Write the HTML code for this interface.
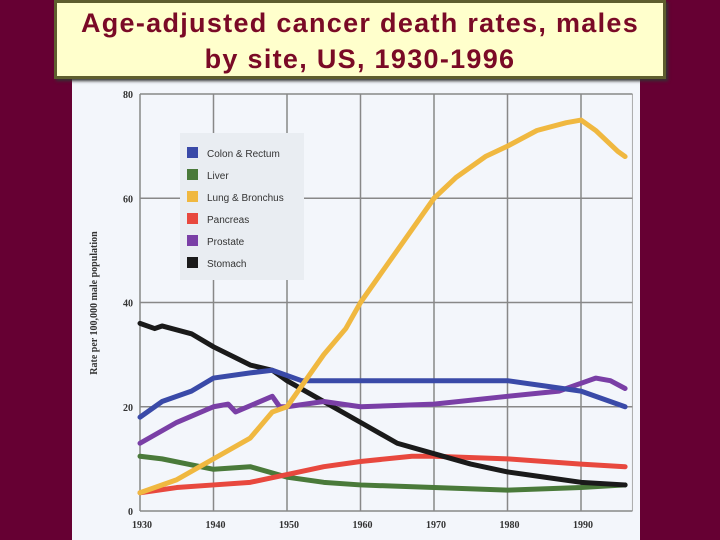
<!DOCTYPE html>
<html><head><meta charset="utf-8"><style>
body{margin:0;width:720px;height:540px;background:#660033;overflow:hidden;position:relative;font-family:"Liberation Sans",sans-serif}
#panel{position:absolute;left:72px;top:70px;width:568px;height:470px;background:#f3f6fb}
#title{position:absolute;left:54px;top:0;width:612px;height:79px;background:#ffffcc;border:3px solid #5e5e2e;box-sizing:border-box;text-align:center;font-size:27px;letter-spacing:1.3px;font-weight:bold;line-height:36px;padding-top:2px;color:#7a0a26;box-shadow:2px 2px 3px #333;white-space:nowrap}
svg{position:absolute;left:0;top:0}
</style></head><body>
<div id="panel"></div>
<svg id="chart" width="720" height="540"></svg>
<div id="title">Age-adjusted cancer death rates, males<br>by site, US, 1930-1996</div>
<script>
const xTicks=[1930,1940,1950,1960,1970,1980,1990];
const yTicks=[0,20,40,60,80];
const seriesNames=["Colon & Rectum","Liver","Lung & Bronchus","Pancreas","Prostate","Stomach"];
const seriesColors=["#3a4aa8","#4a7a3a","#f0b840","#e8483e","#7a3fa6","#1a1a1a"];
const colonYears=[1930,1933,1937,1940,1945,1948,1950,1952,1960,1970,1980,1985,1990,1996];
const colonVals=[18,21,23,25.5,26.5,27,26,25,25,25,25,24,23,20];
const liverYears=[1930,1933,1940,1945,1950,1955,1960,1970,1980,1990,1996];
const liverVals=[10.5,10,8,8.5,6.5,5.5,5,4.5,4,4.5,5];
const lungYears=[1930,1935,1940,1945,1948,1950,1952,1955,1958,1960,1963,1967,1970,1973,1977,1980,1984,1988,1990,1992,1995,1996];
const lungVals=[3.5,6,10,14,19,20,24,30,35,40,46,54,60,64,68,70,73,74.5,75,73,69,68];
const pancYears=[1930,1935,1940,1945,1950,1955,1960,1967,1970,1980,1990,1996];
const pancVals=[3.5,4.5,5,5.5,7,8.5,9.5,10.5,10.5,10,9,8.5];
const prosYears=[1930,1935,1940,1942,1943,1948,1949,1950,1955,1960,1970,1980,1987,1990,1992,1994,1996];
const prosVals=[13,17,20,20.5,19,22,20,20,21,20,20.5,22,23,24.5,25.5,25,23.5];
const stomYears=[1930,1932,1933,1937,1940,1945,1948,1950,1955,1960,1965,1970,1975,1980,1985,1990,1996];
const stomVals=[36,35,35.5,34,31.5,28,27,25,21,17,13,11,9,7.5,6.5,5.5,5];
const svg=document.getElementById('chart');const NS="http://www.w3.org/2000/svg";
const X=y=>140+(y-1930)*(581-140)/60;
const Y=v=>511-v*(511-94)/80;
function mk(t,a,p){const e=document.createElementNS(NS,t);for(const k in a)e.setAttribute(k,a[k]);(p||svg).appendChild(e);return e;}
xTicks.forEach(t=>{const l=mk('line',{x1:X(t),x2:X(t),y1:Y(80),y2:Y(0),stroke:'#888','stroke-width':1.5});


const tx=mk('text',{x:X(t)+2,y:528,'font-size':10,'font-weight':'bold','font-family':'Liberation Serif,serif','text-anchor':'middle',fill:'#333'});tx.textContent=t;

});
mk('line',{x1:X(1997),x2:X(1997),y1:Y(80),y2:Y(0),stroke:'#aaa','stroke-width':1});
yTicks.forEach(t=>{const l=mk('line',{x1:X(1930),x2:X(1997),y1:Y(t),y2:Y(t),stroke:'#888','stroke-width':1.5});


const tx=mk('text',{x:133,y:Y(t)+4,'font-size':10,'font-weight':'bold','font-family':'Liberation Serif,serif','text-anchor':'end',fill:'#333'});tx.textContent=t;

});
const yl=mk('text',{x:0,y:0,transform:'translate(97,303) rotate(-90)','font-size':10,'font-weight':'bold','font-family':'Liberation Serif,serif','text-anchor':'middle',fill:'#333'});yl.textContent='Rate per 100,000 male population';


const lg=mk('rect',{x:180,y:133,width:124,height:147,fill:'#e9edf2'});


seriesNames.forEach((n,i)=>{const y=153+i*22;
const s=mk('rect',{x:187,y:y-6,width:11,height:11,fill:seriesColors[i]});


const t=mk('text',{x:207,y:y+4,'font-size':10,fill:'#333'});t.textContent=n;

});
const all=[[colonYears,colonVals],[liverYears,liverVals],[lungYears,lungVals],[pancYears,pancVals],[prosYears,prosVals],[stomYears,stomVals]];
const order=[1,3,5,4,0,2];
order.forEach(i=>{const [ys,vs]=all[i];
const p=mk('polyline',{points:ys.map((y,j)=>X(y)+','+Y(vs[j])).join(' '),fill:'none',stroke:seriesColors[i],'stroke-width':5,'stroke-linejoin':'round','stroke-linecap':'round'});

});
</script>
</body></html>
